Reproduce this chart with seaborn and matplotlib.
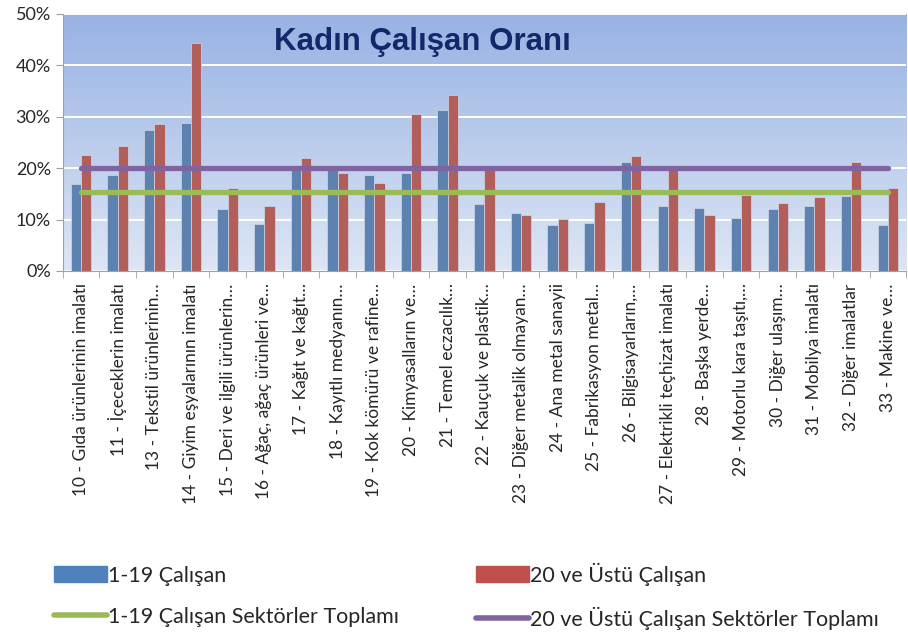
import numpy as np
import pandas as pd
import seaborn as sns
import matplotlib.pyplot as plt
from matplotlib.patches import Patch
from matplotlib.lines import Line2D
from matplotlib.colors import LinearSegmentedColormap
from matplotlib.ticker import FuncFormatter

# sektor etiketleri (grafikteki gibi kisaltilmis)
sektorler = [
    "10 - Gıda ürünlerinin imalatı",
    "11 - İçeceklerin imalatı",
    "13 - Tekstil ürünlerinin…",
    "14 - Giyim eşyalarının imalatı",
    "15 - Deri ve ilgili ürünlerin…",
    "16 - Ağaç, ağaç ürünleri ve…",
    "17 - Kağıt ve kağıt…",
    "18 - Kayıtlı medyanın…",
    "19 - Kok kömürü ve rafine…",
    "20 - Kimyasalların ve…",
    "21 - Temel eczacılık…",
    "22 - Kauçuk ve plastik…",
    "23 - Diğer metalik olmayan…",
    "24 - Ana metal sanayii",
    "25 - Fabrikasyon metal…",
    "26 - Bilgisayarların,…",
    "27 - Elektrikli teçhizat imalatı",
    "28 - Başka yerde…",
    "29 - Motorlu kara taşıtı,…",
    "30 - Diğer ulaşım…",
    "31 - Mobilya imalatı",
    "32 - Diğer imalatlar",
    "33 - Makine ve…",
]

# kadin calisan orani (%)
calisan_1_19 = [16.9, 18.6, 27.5, 28.7, 12.1, 9.2, 19.9, 19.8, 18.7, 19.1, 31.4, 13.1,
                11.2, 9.0, 9.4, 21.1, 12.7, 12.2, 10.3, 12.0, 12.6, 14.5, 8.9]
calisan_20_ustu = [22.6, 24.4, 28.5, 44.4, 16.2, 12.7, 22.0, 19.1, 17.2, 30.6, 34.3, 19.7,
                   10.9, 10.1, 13.4, 22.4, 19.7, 10.9, 14.7, 13.2, 14.4, 21.2, 16.2]

# sektorler toplami
toplam_1_19 = 15.3
toplam_20_ustu = 20.1

ad_1 = "1-19 Çalışan"
ad_2 = "20 ve Üstü Çalışan"

df = pd.DataFrame({"Sektor": sektorler * 2,
                   "Oran": calisan_1_19 + calisan_20_ustu,
                   "Grup": [ad_1] * len(sektorler) + [ad_2] * len(sektorler)})

mavi, kirmizi, yesil, mor = "#4F81BD", "#C0504D", "#9BBB59", "#8064A2"

sns.set_style("white")
plt.rcParams['font.family'] = ['Lato', 'DejaVu Sans']

fig = plt.figure(figsize=(9.08, 6.33), dpi=100)
ax = fig.add_axes([0.069, 0.572, 0.929, 0.406])

# gradyan arka plan
cmap = LinearSegmentedColormap.from_list("bg", ["#DDE6F5", "#98B2E3"])
ax.imshow(np.linspace(0, 1, 256).reshape(-1, 1), cmap=cmap, origin="lower", aspect="auto",
          extent=[0, 1, 0, 1], transform=ax.transAxes, zorder=0)

sns.barplot(data=df, x="Sektor", y="Oran", hue="Grup", palette=[mavi, kirmizi],
            width=0.56, ax=ax, zorder=3, legend=False, edgecolor="#D0D8E8", linewidth=0.5)

n = len(sektorler)
sns.lineplot(x=np.arange(n), y=[toplam_20_ustu] * n, color=mor, linewidth=3.8,
             ax=ax, zorder=4, solid_capstyle="round")
sns.lineplot(x=np.arange(n), y=[toplam_1_19] * n, color=yesil, linewidth=3.8,
             ax=ax, zorder=4, solid_capstyle="round")

ax.set_xlim(-0.5, n - 0.5)
ax.set_ylim(0, 50)
ax.set_yticks(range(0, 51, 10))
ax.yaxis.set_major_formatter(FuncFormatter(lambda v, p: f"{v:.0f}%"))
ax.set_xlabel("")
ax.set_ylabel("")
ax.grid(axis="y", color="white", linewidth=1.4, zorder=1)
ax.set_axisbelow(False)
for g in ax.get_ygridlines():
    g.set_zorder(1)

ax.set_xticks(np.arange(n))
ax.set_xticklabels(sektorler, rotation=90, fontsize=12.5)
ax.set_xticks(np.arange(n + 1) - 0.5, minor=True)
ax.tick_params(axis="x", which="major", length=0, pad=9)
ax.tick_params(axis="x", which="minor", length=5, color="#A0A0A0", direction="out", bottom=True)
ax.tick_params(axis="y", length=5, color="#A0A0A0", direction="out", left=True, labelsize=13)
for s in ["top", "right"]:
    ax.spines[s].set_visible(False)
for s in ["left", "bottom"]:
    ax.spines[s].set_color("#A0A0A0")
    ax.spines[s].set_zorder(5)

ax.text(0.426, 0.89, "Kadın Çalışan Oranı", transform=ax.transAxes, ha="center", va="center",
        fontsize=22.5, fontweight="bold", color="#12286A", family=["Liberation Sans", "DejaVu Sans"],
        zorder=6)

handles = [Patch(color=mavi, label=ad_1),
           Line2D([0], [0], color=yesil, linewidth=4, solid_capstyle="round",
                  label="1-19 Çalışan Sektörler Toplamı"),
           Patch(color=kirmizi, label=ad_2),
           Line2D([0], [0], color=mor, linewidth=4, solid_capstyle="round",
                  label="20 ve Üstü Çalışan Sektörler Toplamı")]
fig.legend(handles=handles, ncol=2, loc="center left", bbox_to_anchor=(0.038, 0.058),
           frameon=False, fontsize=15.5, handlelength=2.45, handletextpad=0.08,
           columnspacing=3.55, labelspacing=1.0, handleheight=0.8)

fig.savefig("out.png", dpi=100)
